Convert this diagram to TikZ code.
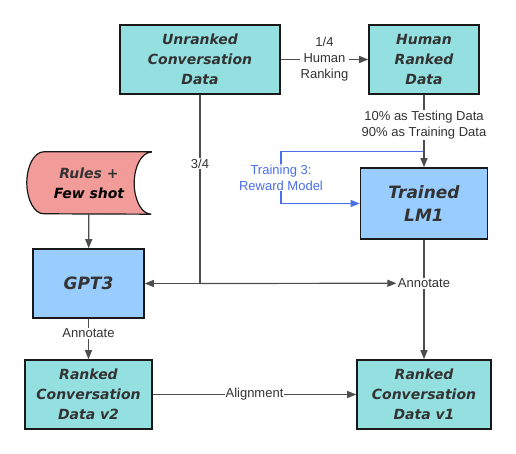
\documentclass[tikz,border=0pt]{standalone}
\usepackage{fontspec}
\setmainfont{Liberation Sans}
\newfontfamily\boxfont{DejaVu Sans}
\usetikzlibrary{arrows.meta,calc,backgrounds}
\definecolor{datafill}{HTML}{94E0E0}
\definecolor{modelfill}{HTML}{99CCFF}
\definecolor{rulesfill}{HTML}{F19C99}
\definecolor{edgegray}{HTML}{4D4D4D}
\definecolor{trainblue}{HTML}{4A6FE6}
\definecolor{textgray}{HTML}{333333}
\begin{document}
\begin{tikzpicture}[x=1pt,y=1pt,>={Triangle[length=9pt,width=7pt]}]
\tikzset{
  data/.style={draw=black!90,line width=1.6pt,fill=datafill,minimum height=69pt,inner sep=0pt,align=center,text=textgray,font=\boxfont\bfseries\itshape\fontsize{14}{20}\selectfont},
  model/.style={data,fill=modelfill,font=\boxfont\bfseries\itshape\fontsize{17}{23}\selectfont},
  rules/.style={minimum width=124pt,minimum height=62pt,inner sep=0pt,align=center,text=textgray,font=\boxfont\bfseries\itshape\fontsize{14}{20}\selectfont},
  edge/.style={draw=edgegray,line width=1.2pt},
  lbl/.style={fill=white,text=textgray,align=center,inner sep=1pt,font=\fontsize{13}{16}\selectfont}
}
\useasboundingbox (0,0) rectangle (516,454);
\node[data,minimum width=160pt] (unranked) at (200,394.5) {Unranked\\Conversation\\Data};
\node[data,minimum width=110pt] (human) at (424,394.5) {Human\\Ranked\\Data};
\node[model,minimum width=127pt,minimum height=71pt] (trained) at (424,250.5) {Trained\\LM1};
\node[rules] (rules) at (89,271) {Rules +\\\textcolor{black}{Few shot}};
\node[model,minimum width=111pt,font=\boxfont\bfseries\itshape\fontsize{17}{23}\selectfont] (gpt) at (88.5,170.5) {GPT3};
\node[data,minimum width=127pt] (v2) at (88.5,59.5) {Ranked\\Conversation\\Data v2};
\node[data,minimum width=134pt] (v1) at (424,59.5) {Ranked\\Conversation\\Data v1};
% tape shape behind the rules text
\begin{scope}[on background layer]
\filldraw[fill=rulesfill,draw=black!90,line width=1.2pt]
  (rules.north east) -- ($(rules.north west)+(17,0)$)
  arc[start angle=90,end angle=270,x radius=17,y radius=31]
  -- (rules.south east)
  arc[start angle=270,end angle=90,x radius=17,y radius=31] -- cycle;
\end{scope}
\coordinate (split) at ($(human.south)!0.78!(trained.north)$);
\coordinate (loop) at (281,0);
\coordinate (fork) at (unranked.south |- gpt.east);
\draw[edge,->] (unranked) -- node[lbl]{1/4\\Human\\Ranking} (human);
\draw[draw=trainblue,line width=1.2pt,->] (split) -| node[lbl,pos=0.75,text=trainblue]{Training 3:\\Reward Model} (loop |- trained.west) -- (trained.west);
\draw[edge,->] (human) -- node[lbl,pos=0.42]{10\% as Testing Data\\90\% as Training Data} (trained);
\draw[edge,->] (rules) -- (gpt);
\draw[edge] (unranked.south) -- node[lbl,pos=0.365]{3/4} (fork);
\draw[edge,->] (fork) -- (gpt.east);
\draw[edge,->] (trained) -- node[lbl,pos=0.364] (annotate1) {Annotate} (v1);
\draw[edge,->] (fork) -- (annotate1.west);
\draw[edge,->] (gpt) -- node[lbl,pos=0.36]{Annotate} (v2);
\draw[edge,->] (v2) -- node[lbl]{Alignment} (v1);
\end{tikzpicture}
\end{document}
